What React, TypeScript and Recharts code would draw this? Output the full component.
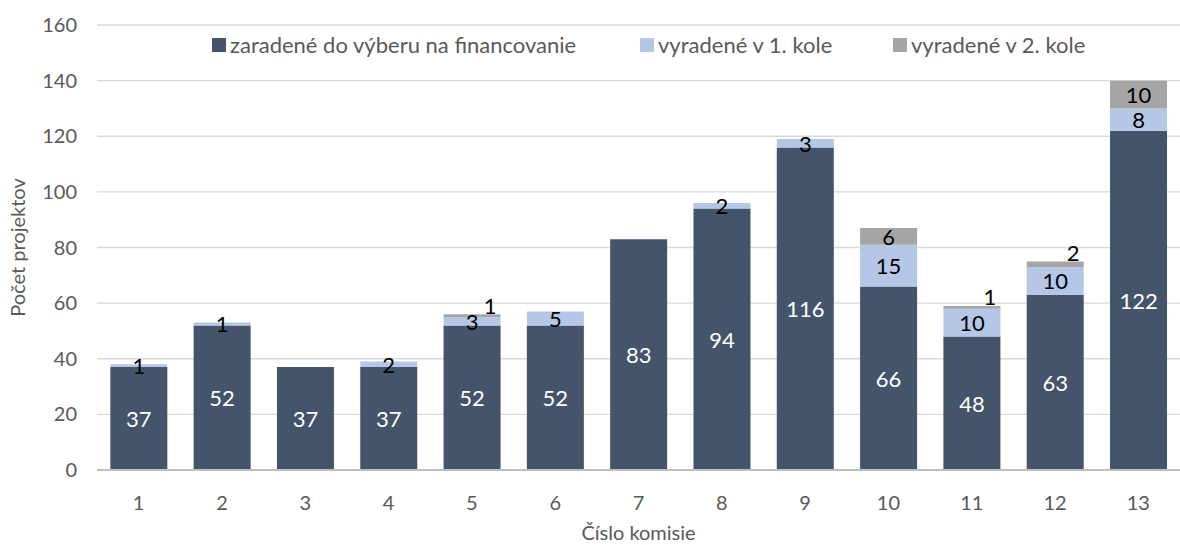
import React from 'react';
import { BarChart, Bar, XAxis, YAxis, CartesianGrid, LabelList } from 'recharts';

const komisie = ['1', '2', '3', '4', '5', '6', '7', '8', '9', '10', '11', '12', '13'];
const zaradene = [37, 52, 37, 37, 52, 52, 83, 94, 116, 66, 48, 63, 122];
const vyradene1 = [1, 1, 0, 2, 3, 5, 0, 2, 3, 15, 10, 10, 8];
const vyradene2 = [0, 0, 0, 0, 1, 0, 0, 0, 0, 6, 1, 2, 10];
const yTicks = [0, 20, 40, 60, 80, 100, 120, 140, 160];

const seriesNames = {
  zaradene: 'zaradené do výberu na financovanie',
  vyradene1: 'vyradené v 1. kole',
  vyradene2: 'vyradené v 2. kole',
};

const colors = {
  zaradene: '#44546A',
  vyradene1: '#B4C7E7',
  vyradene2: '#A5A5A5',
};

const data = komisie.map((k, i) => ({
  komisia: k,
  zaradene: zaradene[i],
  vyradene1: vyradene1[i],
  vyradene2: vyradene2[i],
}));

const FONT = 'Lato, "Open Sans", sans-serif';
const AXIS_COLOR = '#595959';

// legend drawn as an overlay so it doesn't push the plot down
const legendItems = [
  { key: 'zaradene', left: 212 },
  { key: 'vyradene1', left: 640 },
  { key: 'vyradene2', left: 893 },
] as const;

const ChartLegend = () => (
  <div style={{ position: 'absolute', top: 31, left: 0, fontFamily: FONT, fontSize: 22, color: AXIS_COLOR }}>
    {legendItems.map(({ key, left }) => (
      <div key={key} style={{ position: 'absolute', left, display: 'flex', alignItems: 'center', whiteSpace: 'nowrap' }}>
        <span style={{ display: 'inline-block', width: 14, height: 14, background: colors[key], marginRight: 4 }} />
        <span>{seriesNames[key]}</span>
      </div>
    ))}
  </div>
);

// center labels, hide zeros
const makeLabel = (fill: string) => (props: any) => {
  const { x, y, width, height, value } = props;
  if (!value) return null;
  return (
    <text x={x + width / 2} y={y + height / 2} fill={fill} fontSize={22} fontFamily={FONT} textAnchor="middle" dominantBaseline="central">
      {value}
    </text>
  );
};

// small gray labels get pushed above the bar, and sideways if the blue one is small too
const grayLabel = (props: any) => {
  const { x, y, width, height, value, index } = props;
  if (!value) return null;
  let ty = y + height / 2;
  let tx = x + width / 2;
  if (height < 10) {
    ty = y - 9;
    if (vyradene1[index] < 5) tx += 18;
  }
  return (
    <text x={tx} y={ty} fill="#000" fontSize={22} fontFamily={FONT} textAnchor="middle" dominantBaseline="central">
      {value}
    </text>
  );
};

const App: React.FC = () => {
  return (
    <div style={{ position: 'relative', width: 1180, height: 545, background: '#fff', fontFamily: FONT }}>
      <style>{`body { margin: 0; }`}</style>
      <BarChart
        width={1180}
        height={545}
        data={data}
        margin={{ top: 25, right: 0, left: 0, bottom: 0 }}
        barCategoryGap="16%"
      >
        <CartesianGrid vertical={false} stroke="#D9D9D9" strokeWidth={1.3} />
        <XAxis
          dataKey="komisia"
          height={75}
          tickLine={false}
          axisLine={{ stroke: '#BFBFBF', strokeWidth: 2 }}
          tick={{ fill: AXIS_COLOR, fontSize: 20, fontFamily: FONT }}
          tickMargin={20}
          label={{ value: 'Číslo komisie', position: 'insideBottom', offset: 5, fill: AXIS_COLOR, fontSize: 20, fontFamily: FONT }}
        />
        <YAxis
          width={97}
          domain={[0, 160]}
          ticks={yTicks}
          interval={0}
          tickLine={false}
          axisLine={false}
          tick={{ fill: AXIS_COLOR, fontSize: 20, fontFamily: FONT }}
          tickMargin={14}
          label={{ value: 'Počet projektov', angle: -90, position: 'insideLeft', offset: 18, fill: AXIS_COLOR, fontSize: 20, fontFamily: FONT, style: { textAnchor: 'middle' } }}
        />
        <Bar dataKey="zaradene" name={seriesNames.zaradene} stackId="a" fill={colors.zaradene} isAnimationActive={false}>
          <LabelList dataKey="zaradene" content={makeLabel('#FFFFFF')} />
        </Bar>
        <Bar dataKey="vyradene1" name={seriesNames.vyradene1} stackId="a" fill={colors.vyradene1} isAnimationActive={false}>
          <LabelList dataKey="vyradene1" content={makeLabel('#000000')} />
        </Bar>
        <Bar dataKey="vyradene2" name={seriesNames.vyradene2} stackId="a" fill={colors.vyradene2} isAnimationActive={false}>
          <LabelList dataKey="vyradene2" content={grayLabel} />
        </Bar>
      </BarChart>
      <ChartLegend />
    </div>
  );
};

export default App;
